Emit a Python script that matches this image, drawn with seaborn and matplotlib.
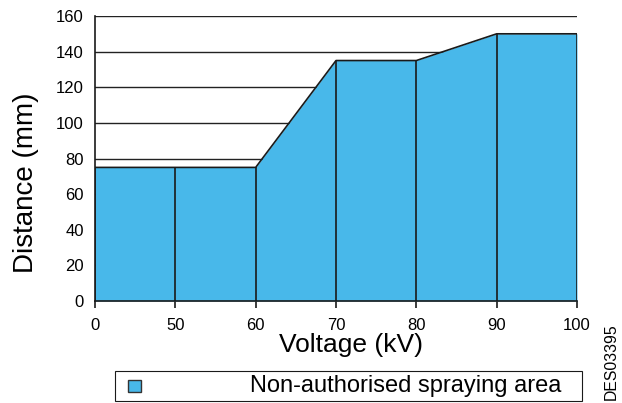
import numpy as np
import pandas as pd
import seaborn as sns
from matplotlib import pyplot as plt
from matplotlib.patches import Rectangle

# date
voltage_labels = ["0", "50", "60", "70", "80", "90", "100"]
distance = [75, 75, 75, 135, 135, 150, 150]
y_ticks = [0, 20, 40, 60, 80, 100, 120, 140, 160]
legend_label = "Non-authorised spraying area"

df = pd.DataFrame({"pos": np.arange(len(voltage_labels)), "distance": distance})

sns.set_style("white")
plt.rcParams["font.family"] = ["Liberation Sans", "DejaVu Sans"]
plt.rcParams["text.color"] = "black"
plt.rcParams["axes.labelcolor"] = "black"
plt.rcParams["xtick.color"] = "black"
plt.rcParams["ytick.color"] = "black"

W, H = 622, 403
fig = plt.figure(figsize=(W / 100, H / 100), dpi=100)
ax = fig.add_axes([95 / W, 1 - 301 / H, 482 / W, 285 / H])

fill_color = "#48b8ea"
line_color = "#1a1a1a"

# linii de grila orizontale
for yv in y_ticks[1:]:
    ax.axhline(yv, color="#222222", lw=1.0, zorder=1)

ax.fill_between(df["pos"], 0, df["distance"], color=fill_color, zorder=2, lw=0)
sns.lineplot(data=df, x="pos", y="distance", color=line_color, lw=1.2, ax=ax, zorder=3)
ax.vlines(df["pos"], 0, df["distance"], color=line_color, lw=1.2, zorder=3)

ax.set_xlim(0, len(voltage_labels) - 1)
ax.set_ylim(0, 160)
ax.set_xticks(df["pos"])
ax.set_xticklabels(voltage_labels)
ax.set_yticks(y_ticks)

for s in ["top", "right"]:
    ax.spines[s].set_visible(False)
for s in ["left", "bottom"]:
    ax.spines[s].set_color(line_color)
    ax.spines[s].set_linewidth(1.2)

ax.tick_params(axis="x", direction="out", length=5, width=1.2, color=line_color,
               pad=7, labelsize=12, bottom=True)
ax.tick_params(axis="y", length=0, pad=8, labelsize=12)

ax.set_xlabel("Voltage (kV)", fontsize=19)
ax.xaxis.set_label_coords(0.531, -0.112)
ax.set_ylabel("Distance (mm)", fontsize=20)
ax.yaxis.set_label_coords(-0.116, 0.414)

# legenda desenata ca in original (caseta lata, text departe de marcaj)
fig.add_artist(Rectangle((115 / W, 1 - 401 / H), 467 / W, 30 / H, transform=fig.transFigure,
                         facecolor="white", edgecolor=line_color, lw=0.8))
fig.add_artist(Rectangle((128 / W, 1 - 392 / H), 13 / W, 12 / H, transform=fig.transFigure,
                         facecolor=fill_color, edgecolor="#333333", lw=1))
fig.text(250 / W, 1 - 386 / H, legend_label, fontsize=17, ha="left", va="center")

fig.text(611 / W, 1 - 362 / H, "DES03395", rotation=90, fontsize=11.3,
         ha="center", va="center")

plt.savefig("out.png", dpi=100)
